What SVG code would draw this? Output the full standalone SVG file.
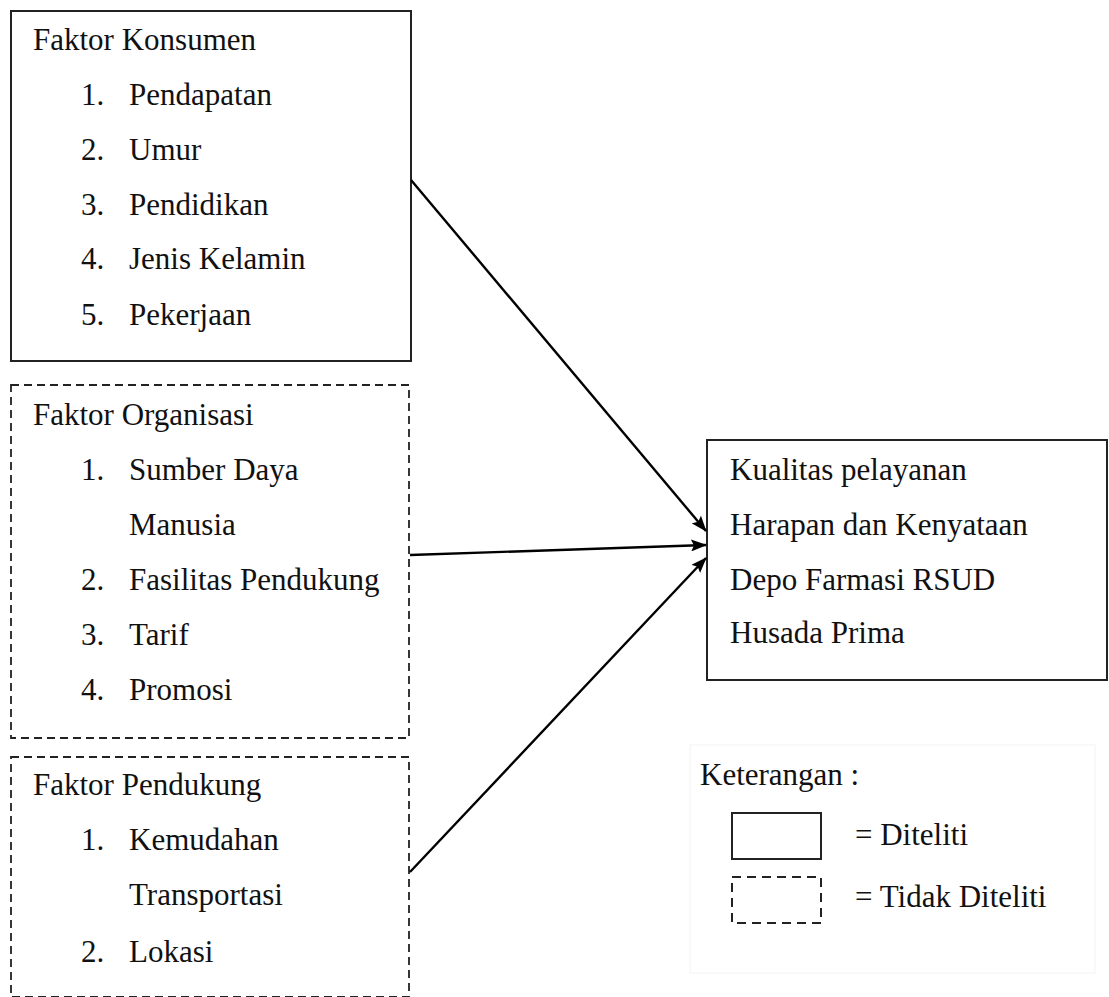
<svg xmlns="http://www.w3.org/2000/svg" width="1109" height="997" viewBox="0 0 1109 997">
<style>
text{font-family:"Liberation Serif","Times New Roman",serif;font-size:31px;fill:#111}
.box{fill:#fff;stroke:#222;stroke-width:2}
.dash{fill:#fff;stroke:#222;stroke-width:1.8;stroke-dasharray:8 5}
.conn{stroke:#000;stroke-width:2.4;fill:none;marker-end:url(#ah)}
</style>
<defs>
<marker id="ah" markerWidth="16" markerHeight="12" refX="15" refY="6" orient="auto" markerUnits="userSpaceOnUse" viewBox="0 0 16 12">
<path d="M0,0 L16,6 L0,12 L3,6 z" fill="#000"/>
</marker>
</defs>
<rect width="1109" height="997" fill="#fff"/>
<g id="konsumen">
<rect class="box" x="11" y="11" width="400" height="350"/>
<text x="33" y="50">Faktor Konsumen</text>
<text x="81" y="105">1.</text><text x="129" y="105">Pendapatan</text>
<text x="81" y="160">2.</text><text x="129" y="160">Umur</text>
<text x="81" y="215">3.</text><text x="129" y="215">Pendidikan</text>
<text x="81" y="269">4.</text><text x="129" y="269">Jenis Kelamin</text>
<text x="81" y="325">5.</text><text x="129" y="325">Pekerjaan</text>
</g>
<g id="organisasi">
<rect class="dash" x="11" y="385" width="398" height="353"/>
<text x="33" y="425">Faktor Organisasi</text>
<text x="81" y="480">1.</text><text x="129" y="480">Sumber Daya</text>
<text x="129" y="535">Manusia</text>
<text x="81" y="590">2.</text><text x="129" y="590">Fasilitas Pendukung</text>
<text x="81" y="645">3.</text><text x="129" y="645">Tarif</text>
<text x="81" y="700">4.</text><text x="129" y="700">Promosi</text>
</g>
<g id="pendukung">
<rect class="dash" x="11" y="757" width="398" height="240"/>
<text x="33" y="795">Faktor Pendukung</text>
<text x="81" y="850">1.</text><text x="129" y="850">Kemudahan</text>
<text x="129" y="905">Transportasi</text>
<text x="81" y="962">2.</text><text x="129" y="962">Lokasi</text>
</g>
<g id="kualitas">
<rect class="box" x="707" y="440" width="400" height="240"/>
<text x="730" y="480">Kualitas pelayanan</text>
<text x="730" y="535">Harapan dan Kenyataan</text>
<text x="730" y="590">Depo Farmasi RSUD</text>
<text x="730" y="643">Husada Prima</text>
</g>
<g id="keterangan">
<rect x="690" y="745" width="405" height="228" fill="#fff" stroke="#f3f3f3" stroke-width="1"/>
<text x="700" y="785">Keterangan :</text>
<rect class="box" x="732" y="813" width="89" height="46" stroke-width="1.8"/>
<text x="855" y="845">= Diteliti</text>
<rect class="dash" x="732" y="877" width="89" height="46" style="stroke-dasharray:9 6;stroke-width:2"/>
<text x="855" y="907">= Tidak Diteliti</text>
</g>
<g id="connectors">
<line class="conn" x1="411" y1="180" x2="706" y2="531"/>
<line class="conn" x1="410" y1="555" x2="706" y2="545"/>
<line class="conn" x1="410" y1="872" x2="706" y2="558"/>
</g>
</svg>
